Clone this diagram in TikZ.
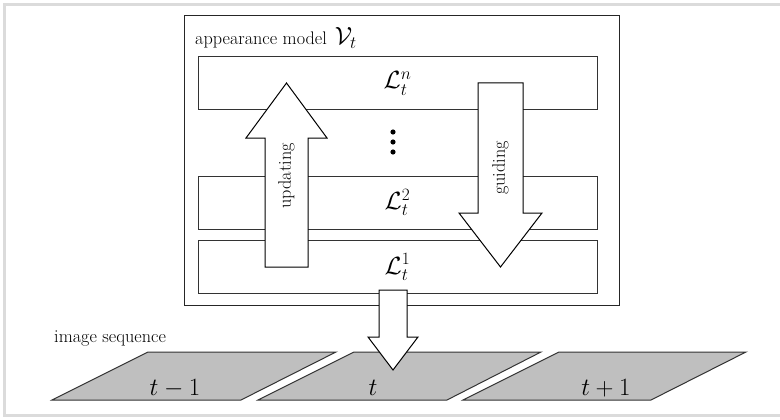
\documentclass[tikz,border=0pt]{standalone}
\usepackage{amsmath}
\begin{document}
\begin{tikzpicture}[x=1pt,y=-1pt,
  layerbox/.style={draw=black!80,line width=1pt,minimum width=399pt,minimum height=53pt,inner sep=0pt,font=\fontsize{24}{28}\selectfont},
  txt/.style={font=\fontsize{18.2}{21}\selectfont,inner sep=0pt},
  blockarrow/.style={draw=black,fill=white,line width=1pt,line join=miter},
  modelframe/.style={draw=black!85,line width=1pt,inner sep=0pt},
  imgframe/.style={draw=black!80,fill=black!25,line width=1pt,line join=miter},
  lbl/.style={font=\fontsize{24}{28}\selectfont,inner sep=0pt,anchor=base}]
\useasboundingbox (0,0) rectangle (780,420);
\draw[black!14,line width=3pt] (783,4.5) -- (4.5,4.5) -- (4.5,415.5) -- (783,415.5);

% appearance model
\node[modelframe,minimum width=435pt,minimum height=289.5pt] (model) at (401.5,160.75) {};
\node[txt,anchor=base west] (title) at (195,45) {appearance model\hspace{8pt}{\fontsize{25}{28}\selectfont$\mathcal{V}_t$}};

% layers
\node[layerbox] (Ln) at (397.5,83.5) {$\mathcal{L}_t^n$};
\node[layerbox] (L2) at (397.5,202.5) {$\mathcal{L}_t^2$};
\node[layerbox] (L1) at (397.5,267) {$\mathcal{L}_t^1$};

% dots
\fill (393,132) circle (2.6);
\fill (393,142) circle (2.6);
\fill (393,152) circle (2.6);

% updating arrow
\draw[blockarrow] (265,267) -- (265,138) -- (246,138) -- (286.5,83) -- (327,138) -- (308,138) -- (308,267) -- cycle;
\node[txt,rotate=90] (upd) at (286.5,176) {updating};

% guiding arrow
\draw[blockarrow] (478,83) -- (523,83) -- (523,213) -- (542,213) -- (500.5,267) -- (459,213) -- (478,213) -- cycle;
\node[txt,rotate=90] (gui) at (500.5,168) {guiding};

% image sequence
\node[txt,anchor=base west] (seq) at (54,342) {image sequence};
\draw[imgframe] (52,400) -- (241,400) -- (336,352) -- (148,352) -- cycle;
\draw[imgframe] (258,400) -- (447,400) -- (541,352) -- (354,352) -- cycle;
\draw[imgframe] (463,400) -- (651,400) -- (746,352) -- (559,352) -- cycle;
\node[lbl] (f1) at (175,395) {$t-1$};
\node[lbl] (f2) at (373,395) {$t$};
\node[lbl] (f3) at (606,395) {$t+1$};

% output arrow
\draw[blockarrow] (379,290) -- (407,290) -- (407,337) -- (418,337) -- (393,370) -- (368,337) -- (379,337) -- cycle;
\end{tikzpicture}
\end{document}
